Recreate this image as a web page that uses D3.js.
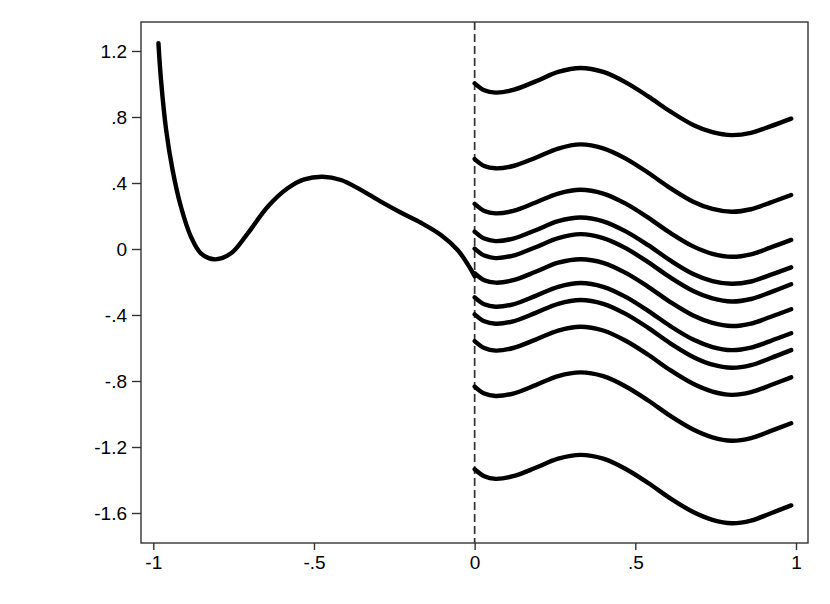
<!DOCTYPE html>
<html><head><meta charset="utf-8">
<script src="https://cdn.jsdelivr.net/npm/d3@7"></script>
<style>body{margin:0;background:#fff}svg{display:block}text{font-family:"Liberation Sans",Arial,sans-serif}</style>
</head><body><svg id="c" width="830" height="604"></svg>
<script>
// Left-of-cutoff fitted curve
const leftX = [-0.984, -0.976, -0.96, -0.94, -0.914, -0.883, -0.852, -0.808, -0.758, -0.706, -0.644, -0.582, -0.53, -0.473, -0.416, -0.354, -0.292, -0.229, -0.167, -0.105, -0.053, -0.017, 0];
const leftY = [1.247, 1.024, 0.721, 0.479, 0.256, 0.075, -0.026, -0.063, -0.026, 0.095, 0.256, 0.368, 0.422, 0.438, 0.418, 0.358, 0.287, 0.22, 0.159, 0.085, -0.006, -0.107, -0.165];

// Right-of-cutoff curves (shared x grid)
const rightX = [0, 0.03, 0.065, 0.12, 0.19, 0.26, 0.33, 0.40, 0.47, 0.54, 0.61, 0.68, 0.74, 0.80, 0.86, 0.92, 0.985];
const series1  = [1.004, 0.962, 0.948, 0.964, 1.016, 1.073, 1.097, 1.073, 1.01, 0.925, 0.832, 0.752, 0.708, 0.690, 0.704, 0.743, 0.790];
const series2  = [0.545, 0.503, 0.489, 0.503, 0.553, 0.609, 0.634, 0.610, 0.548, 0.462, 0.368, 0.287, 0.243, 0.226, 0.241, 0.281, 0.327];
const series3  = [0.273, 0.231, 0.216, 0.231, 0.282, 0.336, 0.359, 0.336, 0.275, 0.19, 0.096, 0.016, -0.029, -0.047, -0.032, 0.008, 0.055];
const series4  = [0.105, 0.063, 0.048, 0.063, 0.114, 0.169, 0.191, 0.168, 0.107, 0.023, -0.071, -0.151, -0.194, -0.211, -0.197, -0.157, -0.111];
const series5  = [0.002, -0.040, -0.055, -0.040, 0.011, 0.066, 0.090, 0.066, 0.005, -0.080, -0.174, -0.254, -0.299, -0.318, -0.303, -0.263, -0.214];
const series6  = [-0.147, -0.189, -0.204, -0.189, -0.138, -0.083, -0.062, -0.084, -0.145, -0.229, -0.323, -0.403, -0.448, -0.467, -0.452, -0.412, -0.365];
const series7  = [-0.293, -0.335, -0.350, -0.335, -0.284, -0.229, -0.206, -0.229, -0.290, -0.375, -0.469, -0.549, -0.594, -0.613, -0.598, -0.558, -0.511];
const series8  = [-0.396, -0.438, -0.453, -0.438, -0.387, -0.332, -0.309, -0.332, -0.393, -0.478, -0.573, -0.654, -0.701, -0.72, -0.704, -0.662, -0.613];
const series9  = [-0.558, -0.600, -0.616, -0.600, -0.549, -0.494, -0.471, -0.494, -0.556, -0.641, -0.736, -0.817, -0.864, -0.884, -0.868, -0.826, -0.778];
const series10 = [-0.834, -0.876, -0.891, -0.876, -0.825, -0.770, -0.748, -0.771, -0.833, -0.918, -1.013, -1.094, -1.141, -1.162, -1.146, -1.104, -1.056];
const series11 = [-1.335, -1.377, -1.393, -1.377, -1.326, -1.271, -1.248, -1.271, -1.333, -1.418, -1.513, -1.594, -1.641, -1.662, -1.646, -1.603, -1.554];
const rightSeries = [series1, series2, series3, series4, series5, series6, series7, series8, series9, series10, series11];

const xTicks = [-1, -0.5, 0, 0.5, 1];
const xTickLabels = ["-1", "-.5", "0", ".5", "1"];
const yTicks = [-1.6, -1.2, -0.8, -0.4, 0, 0.4, 0.8, 1.2];
const yTickLabels = ["-1.6", "-1.2", "-.8", "-.4", "0", ".4", ".8", "1.2"];
const cutoff = 0;

const svg = d3.select("#c");
const frame = {left: 141, top: 22, right: 808, bottom: 543};
const x = d3.scaleLinear().domain([-1, 1]).range([153.3, 796]);
const y = d3.scaleLinear().domain([-1.6, 1.2]).range([513, 51]);
const axisColor = "#333";

// frame
svg.append("rect").attr("x", frame.left).attr("y", frame.top)
  .attr("width", frame.right - frame.left).attr("height", frame.bottom - frame.top)
  .attr("fill", "none").attr("stroke", axisColor).attr("stroke-width", 1.4);

// axes
const yAxis = d3.axisLeft(y).tickValues(yTicks).tickSize(9).tickPadding(5)
  .tickFormat((d, i) => yTickLabels[i]);
const gy = svg.append("g").attr("transform", `translate(${frame.left},0)`).call(yAxis);
const xAxis = d3.axisBottom(x).tickValues(xTicks).tickSize(7).tickPadding(6)
  .tickFormat((d, i) => xTickLabels[i]);
const gx = svg.append("g").attr("transform", `translate(0,${frame.bottom})`).call(xAxis);
[gx, gy].forEach(g => {
  g.select(".domain").remove();
  g.attr("font-size", null).attr("font-family", null);
  g.selectAll(".tick line").attr("stroke", axisColor).attr("stroke-width", 1.4);
  g.selectAll(".tick text").attr("fill", "#000").style("font-size", "19px")
    .style("font-family", "'Liberation Sans', Arial, sans-serif");
});

// cutoff dashed line
svg.append("line").attr("x1", x(cutoff)).attr("x2", x(cutoff))
  .attr("y1", frame.top).attr("y2", frame.bottom)
  .attr("stroke", axisColor).attr("stroke-width", 1.7).attr("stroke-dasharray", "8,4");

const line = d3.line().x(d => x(d[0])).y(d => y(d[1])).curve(d3.curveCatmullRom.alpha(0.5));
const curveStyle = sel => sel.attr("fill", "none").attr("stroke", "#000")
  .attr("stroke-width", 4.4).attr("stroke-linecap", "round").attr("stroke-linejoin", "round");

svg.append("path").datum(leftX.map((v, i) => [v, leftY[i]])).attr("d", line).call(curveStyle);
svg.selectAll("path.rs").data(rightSeries).enter().append("path").attr("class", "rs")
  .attr("d", s => line(rightX.map((v, i) => [v, s[i]]))).call(curveStyle);
</script></body></html>
